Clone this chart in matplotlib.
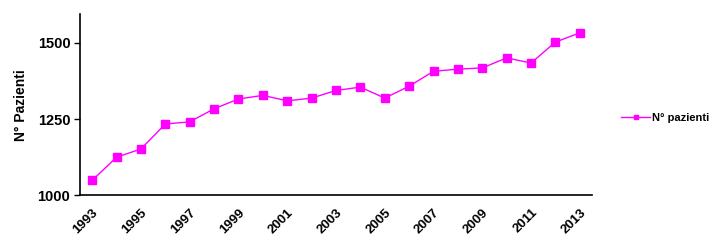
import matplotlib
matplotlib.use("Agg")
import matplotlib.pyplot as plt
import matplotlib.transforms as mtransforms

years = list(range(1993, 2014))
values = [1049, 1125, 1152, 1234, 1241, 1284, 1316, 1328, 1310, 1319, 1344,
          1355, 1319, 1358, 1407, 1414, 1418, 1451, 1434, 1503, 1533]
yticks = [1000, 1250, 1500]
series_name = "N° pazienti"
ylabel = "N° Pazienti"

plt.rcParams['font.family'] = ['Liberation Sans', 'DejaVu Sans']
fig = plt.figure(figsize=(7.2, 2.5), dpi=100)
ax = fig.add_axes([80/720, 1-195.3/250, 512/720, (195.3-14)/250])

x = list(range(len(years)))
ax.plot(x, values, color='#FF00FF', lw=1, marker='s', markersize=5.5,
        markeredgecolor='#FF00FF', label=series_name)

ax.set_xlim(-0.5, len(years)-0.5)
ax.set_ylim(1000, 1595)
ax.set_yticks(yticks)
ax.set_yticklabels([str(v) for v in yticks], fontsize=10.5, fontweight='bold')
ax.set_xticks(x[::2])
ax.set_xticklabels([str(y) for y in years[::2]], rotation=45, ha='right',
                   rotation_mode='anchor', fontsize=9.5, fontweight='bold')
offset = mtransforms.ScaledTranslation(-9/100, -3/100, fig.dpi_scale_trans)
for lab in ax.get_xticklabels():
    lab.set_transform(lab.get_transform() + offset)
ax.tick_params(axis='x', length=0, pad=8)
ax.tick_params(axis='y', length=4, width=1, direction='out', pad=3)
for s in ['top', 'right']:
    ax.spines[s].set_visible(False)
for s in ['left', 'bottom']:
    ax.spines[s].set_linewidth(1.2)
ax.set_ylabel(ylabel, fontsize=10, fontweight='bold', labelpad=7)

leg = fig.legend(loc='center left', bbox_to_anchor=(619/720, 1-118/250),
                 frameon=False, handlelength=2.6, markerscale=0.6,
                 prop={'weight': 'bold', 'size': 8}, handletextpad=0.2,
                 borderaxespad=0, borderpad=0.2)

fig.savefig("out.png", dpi=100)
